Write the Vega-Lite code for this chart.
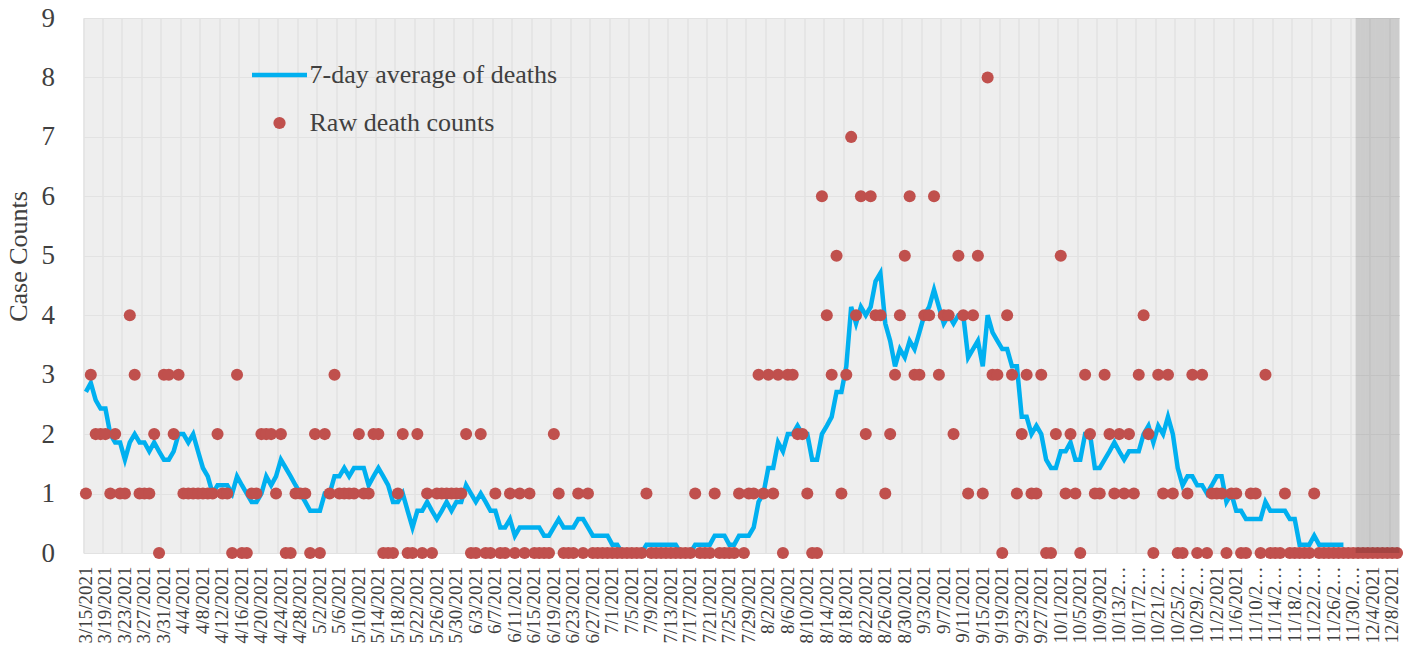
{
"$schema": "https://vega.github.io/schema/vega-lite/v6.json",
"width": 1316, "height": 535,
"autosize": {"type": "none"},
"padding": {"left": 83.5, "top": 18, "right": 15.5, "bottom": 97},
"background": "white",
"config": {"view": {"stroke": null, "fill": "#eeeeee"}, "font": "Liberation Serif"},
"data": {"values": [
{"date":"3/15/2021","deaths":1,"avg7":2.71},{"date":"3/16/2021","deaths":3,"avg7":2.86},{"date":"3/17/2021","deaths":2,"avg7":2.57},{"date":"3/18/2021","deaths":2,"avg7":2.43},{"date":"3/19/2021","deaths":2,"avg7":2.43},{"date":"3/20/2021","deaths":1,"avg7":2.0},{"date":"3/21/2021","deaths":2,"avg7":1.86},{"date":"3/22/2021","deaths":1,"avg7":1.86},{"date":"3/23/2021","deaths":1,"avg7":1.57},{"date":"3/24/2021","deaths":4,"avg7":1.86},
{"date":"3/25/2021","deaths":3,"avg7":2.0},{"date":"3/26/2021","deaths":1,"avg7":1.86},{"date":"3/27/2021","deaths":1,"avg7":1.86},{"date":"3/28/2021","deaths":1,"avg7":1.71},{"date":"3/29/2021","deaths":2,"avg7":1.86},{"date":"3/30/2021","deaths":0,"avg7":1.71},{"date":"3/31/2021","deaths":3,"avg7":1.57},{"date":"4/1/2021","deaths":3,"avg7":1.57},{"date":"4/2/2021","deaths":2,"avg7":1.71},{"date":"4/3/2021","deaths":3,"avg7":2.0},
{"date":"4/4/2021","deaths":1,"avg7":2.0},{"date":"4/5/2021","deaths":1,"avg7":1.86},{"date":"4/6/2021","deaths":1,"avg7":2.0},{"date":"4/7/2021","deaths":1,"avg7":1.71},{"date":"4/8/2021","deaths":1,"avg7":1.43},{"date":"4/9/2021","deaths":1,"avg7":1.29},{"date":"4/10/2021","deaths":1,"avg7":1.0},{"date":"4/11/2021","deaths":2,"avg7":1.14},{"date":"4/12/2021","deaths":1,"avg7":1.14},{"date":"4/13/2021","deaths":1,"avg7":1.14},
{"date":"4/14/2021","deaths":0,"avg7":1.0},{"date":"4/15/2021","deaths":3,"avg7":1.29},{"date":"4/16/2021","deaths":0,"avg7":1.14},{"date":"4/17/2021","deaths":0,"avg7":1.0},{"date":"4/18/2021","deaths":1,"avg7":0.86},{"date":"4/19/2021","deaths":1,"avg7":0.86},{"date":"4/20/2021","deaths":2,"avg7":1.0},{"date":"4/21/2021","deaths":2,"avg7":1.29},{"date":"4/22/2021","deaths":2,"avg7":1.14},{"date":"4/23/2021","deaths":1,"avg7":1.29},
{"date":"4/24/2021","deaths":2,"avg7":1.57},{"date":"4/25/2021","deaths":0,"avg7":1.43},{"date":"4/26/2021","deaths":0,"avg7":1.29},{"date":"4/27/2021","deaths":1,"avg7":1.14},{"date":"4/28/2021","deaths":1,"avg7":1.0},{"date":"4/29/2021","deaths":1,"avg7":0.86},{"date":"4/30/2021","deaths":0,"avg7":0.71},{"date":"5/1/2021","deaths":2,"avg7":0.71},{"date":"5/2/2021","deaths":0,"avg7":0.71},{"date":"5/3/2021","deaths":2,"avg7":1.0},
{"date":"5/4/2021","deaths":1,"avg7":1.0},{"date":"5/5/2021","deaths":3,"avg7":1.29},{"date":"5/6/2021","deaths":1,"avg7":1.29},{"date":"5/7/2021","deaths":1,"avg7":1.43},{"date":"5/8/2021","deaths":1,"avg7":1.29},{"date":"5/9/2021","deaths":1,"avg7":1.43},{"date":"5/10/2021","deaths":2,"avg7":1.43},{"date":"5/11/2021","deaths":1,"avg7":1.43},{"date":"5/12/2021","deaths":1,"avg7":1.14},{"date":"5/13/2021","deaths":2,"avg7":1.29},
{"date":"5/14/2021","deaths":2,"avg7":1.43},{"date":"5/15/2021","deaths":0,"avg7":1.29},{"date":"5/16/2021","deaths":0,"avg7":1.14},{"date":"5/17/2021","deaths":0,"avg7":0.86},{"date":"5/18/2021","deaths":1,"avg7":0.86},{"date":"5/19/2021","deaths":2,"avg7":1.0},{"date":"5/20/2021","deaths":0,"avg7":0.71},{"date":"5/21/2021","deaths":0,"avg7":0.43},{"date":"5/22/2021","deaths":2,"avg7":0.71},{"date":"5/23/2021","deaths":0,"avg7":0.71},
{"date":"5/24/2021","deaths":1,"avg7":0.86},{"date":"5/25/2021","deaths":0,"avg7":0.71},{"date":"5/26/2021","deaths":1,"avg7":0.57},{"date":"5/27/2021","deaths":1,"avg7":0.71},{"date":"5/28/2021","deaths":1,"avg7":0.86},{"date":"5/29/2021","deaths":1,"avg7":0.71},{"date":"5/30/2021","deaths":1,"avg7":0.86},{"date":"5/31/2021","deaths":1,"avg7":0.86},{"date":"6/1/2021","deaths":2,"avg7":1.14},{"date":"6/2/2021","deaths":0,"avg7":1.0},
{"date":"6/3/2021","deaths":0,"avg7":0.86},{"date":"6/4/2021","deaths":2,"avg7":1.0},{"date":"6/5/2021","deaths":0,"avg7":0.86},{"date":"6/6/2021","deaths":0,"avg7":0.71},{"date":"6/7/2021","deaths":1,"avg7":0.71},{"date":"6/8/2021","deaths":0,"avg7":0.43},{"date":"6/9/2021","deaths":0,"avg7":0.43},{"date":"6/10/2021","deaths":1,"avg7":0.57},{"date":"6/11/2021","deaths":0,"avg7":0.29},{"date":"6/12/2021","deaths":1,"avg7":0.43},
{"date":"6/13/2021","deaths":0,"avg7":0.43},{"date":"6/14/2021","deaths":1,"avg7":0.43},{"date":"6/15/2021","deaths":0,"avg7":0.43},{"date":"6/16/2021","deaths":0,"avg7":0.43},{"date":"6/17/2021","deaths":0,"avg7":0.29},{"date":"6/18/2021","deaths":0,"avg7":0.29},{"date":"6/19/2021","deaths":2,"avg7":0.43},{"date":"6/20/2021","deaths":1,"avg7":0.57},{"date":"6/21/2021","deaths":0,"avg7":0.43},{"date":"6/22/2021","deaths":0,"avg7":0.43},
{"date":"6/23/2021","deaths":0,"avg7":0.43},{"date":"6/24/2021","deaths":1,"avg7":0.57},{"date":"6/25/2021","deaths":0,"avg7":0.57},{"date":"6/26/2021","deaths":1,"avg7":0.43},{"date":"6/27/2021","deaths":0,"avg7":0.29},{"date":"6/28/2021","deaths":0,"avg7":0.29},{"date":"6/29/2021","deaths":0,"avg7":0.29},{"date":"6/30/2021","deaths":0,"avg7":0.29},{"date":"7/1/2021","deaths":0,"avg7":0.14},{"date":"7/2/2021","deaths":0,"avg7":0.14},
{"date":"7/3/2021","deaths":0,"avg7":0},{"date":"7/4/2021","deaths":0,"avg7":0},{"date":"7/5/2021","deaths":0,"avg7":0},{"date":"7/6/2021","deaths":0,"avg7":0},{"date":"7/7/2021","deaths":0,"avg7":0},{"date":"7/8/2021","deaths":1,"avg7":0.14},{"date":"7/9/2021","deaths":0,"avg7":0.14},{"date":"7/10/2021","deaths":0,"avg7":0.14},{"date":"7/11/2021","deaths":0,"avg7":0.14},{"date":"7/12/2021","deaths":0,"avg7":0.14},
{"date":"7/13/2021","deaths":0,"avg7":0.14},{"date":"7/14/2021","deaths":0,"avg7":0.14},{"date":"7/15/2021","deaths":0,"avg7":0},{"date":"7/16/2021","deaths":0,"avg7":0},{"date":"7/17/2021","deaths":0,"avg7":0},{"date":"7/18/2021","deaths":1,"avg7":0.14},{"date":"7/19/2021","deaths":0,"avg7":0.14},{"date":"7/20/2021","deaths":0,"avg7":0.14},{"date":"7/21/2021","deaths":0,"avg7":0.14},{"date":"7/22/2021","deaths":1,"avg7":0.29},
{"date":"7/23/2021","deaths":0,"avg7":0.29},{"date":"7/24/2021","deaths":0,"avg7":0.29},{"date":"7/25/2021","deaths":0,"avg7":0.14},{"date":"7/26/2021","deaths":0,"avg7":0.14},{"date":"7/27/2021","deaths":1,"avg7":0.29},{"date":"7/28/2021","deaths":0,"avg7":0.29},{"date":"7/29/2021","deaths":1,"avg7":0.29},{"date":"7/30/2021","deaths":1,"avg7":0.43},{"date":"7/31/2021","deaths":3,"avg7":0.86},{"date":"8/1/2021","deaths":1,"avg7":1.0},
{"date":"8/2/2021","deaths":3,"avg7":1.43},{"date":"8/3/2021","deaths":1,"avg7":1.43},{"date":"8/4/2021","deaths":3,"avg7":1.86},{"date":"8/5/2021","deaths":0,"avg7":1.71},{"date":"8/6/2021","deaths":3,"avg7":2.0},{"date":"8/7/2021","deaths":3,"avg7":2.0},{"date":"8/8/2021","deaths":2,"avg7":2.14},{"date":"8/9/2021","deaths":2,"avg7":2.0},{"date":"8/10/2021","deaths":1,"avg7":2.0},{"date":"8/11/2021","deaths":0,"avg7":1.57},
{"date":"8/12/2021","deaths":0,"avg7":1.57},{"date":"8/13/2021","deaths":6,"avg7":2.0},{"date":"8/14/2021","deaths":4,"avg7":2.14},{"date":"8/15/2021","deaths":3,"avg7":2.29},{"date":"8/16/2021","deaths":5,"avg7":2.71},{"date":"8/17/2021","deaths":1,"avg7":2.71},{"date":"8/18/2021","deaths":3,"avg7":3.14},{"date":"8/19/2021","deaths":7,"avg7":4.14},{"date":"8/20/2021","deaths":4,"avg7":3.86},{"date":"8/21/2021","deaths":6,"avg7":4.14},
{"date":"8/22/2021","deaths":2,"avg7":4.0},{"date":"8/23/2021","deaths":6,"avg7":4.14},{"date":"8/24/2021","deaths":4,"avg7":4.57},{"date":"8/25/2021","deaths":4,"avg7":4.71},{"date":"8/26/2021","deaths":1,"avg7":3.86},{"date":"8/27/2021","deaths":2,"avg7":3.57},{"date":"8/28/2021","deaths":3,"avg7":3.14},{"date":"8/29/2021","deaths":4,"avg7":3.43},{"date":"8/30/2021","deaths":5,"avg7":3.29},{"date":"8/31/2021","deaths":6,"avg7":3.57},
{"date":"9/1/2021","deaths":3,"avg7":3.43},{"date":"9/2/2021","deaths":3,"avg7":3.71},{"date":"9/3/2021","deaths":4,"avg7":4.0},{"date":"9/4/2021","deaths":4,"avg7":4.14},{"date":"9/5/2021","deaths":6,"avg7":4.43},{"date":"9/6/2021","deaths":3,"avg7":4.14},{"date":"9/7/2021","deaths":4,"avg7":3.86},{"date":"9/8/2021","deaths":4,"avg7":4.0},{"date":"9/9/2021","deaths":2,"avg7":3.86},{"date":"9/10/2021","deaths":5,"avg7":4.0},
{"date":"9/11/2021","deaths":4,"avg7":4.0},{"date":"9/12/2021","deaths":1,"avg7":3.29},{"date":"9/13/2021","deaths":4,"avg7":3.43},{"date":"9/14/2021","deaths":5,"avg7":3.57},{"date":"9/15/2021","deaths":1,"avg7":3.14},{"date":"9/16/2021","deaths":8,"avg7":4.0},{"date":"9/17/2021","deaths":3,"avg7":3.71},{"date":"9/18/2021","deaths":3,"avg7":3.57},{"date":"9/19/2021","deaths":0,"avg7":3.43},{"date":"9/20/2021","deaths":4,"avg7":3.43},
{"date":"9/21/2021","deaths":3,"avg7":3.14},{"date":"9/22/2021","deaths":1,"avg7":3.14},{"date":"9/23/2021","deaths":2,"avg7":2.29},{"date":"9/24/2021","deaths":3,"avg7":2.29},{"date":"9/25/2021","deaths":1,"avg7":2.0},{"date":"9/26/2021","deaths":1,"avg7":2.14},{"date":"9/27/2021","deaths":3,"avg7":2.0},{"date":"9/28/2021","deaths":0,"avg7":1.57},{"date":"9/29/2021","deaths":0,"avg7":1.43},{"date":"9/30/2021","deaths":2,"avg7":1.43},
{"date":"10/1/2021","deaths":5,"avg7":1.71},{"date":"10/2/2021","deaths":1,"avg7":1.71},{"date":"10/3/2021","deaths":2,"avg7":1.86},{"date":"10/4/2021","deaths":1,"avg7":1.57},{"date":"10/5/2021","deaths":0,"avg7":1.57},{"date":"10/6/2021","deaths":3,"avg7":2.0},{"date":"10/7/2021","deaths":2,"avg7":2.0},{"date":"10/8/2021","deaths":1,"avg7":1.43},{"date":"10/9/2021","deaths":1,"avg7":1.43},{"date":"10/10/2021","deaths":3,"avg7":1.57},
{"date":"10/11/2021","deaths":2,"avg7":1.71},{"date":"10/12/2021","deaths":1,"avg7":1.86},{"date":"10/13/2021","deaths":2,"avg7":1.71},{"date":"10/14/2021","deaths":1,"avg7":1.57},{"date":"10/15/2021","deaths":2,"avg7":1.71},{"date":"10/16/2021","deaths":1,"avg7":1.71},{"date":"10/17/2021","deaths":3,"avg7":1.71},{"date":"10/18/2021","deaths":4,"avg7":2.0},{"date":"10/19/2021","deaths":2,"avg7":2.14},{"date":"10/20/2021","deaths":0,"avg7":1.86},
{"date":"10/21/2021","deaths":3,"avg7":2.14},{"date":"10/22/2021","deaths":1,"avg7":2.0},{"date":"10/23/2021","deaths":3,"avg7":2.29},{"date":"10/24/2021","deaths":1,"avg7":2.0},{"date":"10/25/2021","deaths":0,"avg7":1.43},{"date":"10/26/2021","deaths":0,"avg7":1.14},{"date":"10/27/2021","deaths":1,"avg7":1.29},{"date":"10/28/2021","deaths":3,"avg7":1.29},{"date":"10/29/2021","deaths":0,"avg7":1.14},{"date":"10/30/2021","deaths":3,"avg7":1.14},
{"date":"10/31/2021","deaths":0,"avg7":1.0},{"date":"11/1/2021","deaths":1,"avg7":1.14},{"date":"11/2/2021","deaths":1,"avg7":1.29},{"date":"11/3/2021","deaths":1,"avg7":1.29},{"date":"11/4/2021","deaths":0,"avg7":0.86},{"date":"11/5/2021","deaths":1,"avg7":1.0},{"date":"11/6/2021","deaths":1,"avg7":0.71},{"date":"11/7/2021","deaths":0,"avg7":0.71},{"date":"11/8/2021","deaths":0,"avg7":0.57},{"date":"11/9/2021","deaths":1,"avg7":0.57},
{"date":"11/10/2021","deaths":1,"avg7":0.57},{"date":"11/11/2021","deaths":0,"avg7":0.57},{"date":"11/12/2021","deaths":3,"avg7":0.86},{"date":"11/13/2021","deaths":0,"avg7":0.71},{"date":"11/14/2021","deaths":0,"avg7":0.71},{"date":"11/15/2021","deaths":0,"avg7":0.71},{"date":"11/16/2021","deaths":1,"avg7":0.71},{"date":"11/17/2021","deaths":0,"avg7":0.57},{"date":"11/18/2021","deaths":0,"avg7":0.57},{"date":"11/19/2021","deaths":0,"avg7":0.14},
{"date":"11/20/2021","deaths":0,"avg7":0.14},{"date":"11/21/2021","deaths":0,"avg7":0.14},{"date":"11/22/2021","deaths":1,"avg7":0.29},{"date":"11/23/2021","deaths":0,"avg7":0.14},{"date":"11/24/2021","deaths":0,"avg7":0.14},{"date":"11/25/2021","deaths":0,"avg7":0.14},{"date":"11/26/2021","deaths":0,"avg7":0.14},{"date":"11/27/2021","deaths":0,"avg7":0.14},{"date":"11/28/2021","deaths":0,"avg7":0.14},{"date":"11/29/2021","deaths":0,"avg7":null},
{"date":"11/30/2021","deaths":0,"avg7":null},{"date":"12/1/2021","deaths":0,"avg7":null},{"date":"12/2/2021","deaths":0,"avg7":null},{"date":"12/3/2021","deaths":0,"avg7":null},{"date":"12/4/2021","deaths":0,"avg7":null},{"date":"12/5/2021","deaths":0,"avg7":null},{"date":"12/6/2021","deaths":0,"avg7":null},{"date":"12/7/2021","deaths":0,"avg7":null},{"date":"12/8/2021","deaths":0,"avg7":null},{"date":"12/9/2021","deaths":0,"avg7":null}
]},
"resolve": {"axis": {"x": "independent"}},
"layer": [
{"mark": {"type": "line", "strokeWidth": 4.5, "color": "#00B0F0"},
 "encoding": {
  "x": {"field": "date", "type": "ordinal", "sort": null, "scale": {"type": "band", "paddingInner": 0, "paddingOuter": 0},
   "axis": {"title": null, "values": ["3/15/2021","3/19/2021","3/23/2021","3/27/2021","3/31/2021","4/4/2021","4/8/2021","4/12/2021","4/16/2021","4/20/2021","4/24/2021","4/28/2021","5/2/2021","5/6/2021","5/10/2021","5/14/2021","5/18/2021","5/22/2021","5/26/2021","5/30/2021","6/3/2021","6/7/2021","6/11/2021","6/15/2021","6/19/2021","6/23/2021","6/27/2021","7/1/2021","7/5/2021","7/9/2021","7/13/2021","7/17/2021","7/21/2021","7/25/2021","7/29/2021","8/2/2021","8/6/2021","8/10/2021","8/14/2021","8/18/2021","8/22/2021","8/26/2021","8/30/2021","9/3/2021","9/7/2021","9/11/2021","9/15/2021","9/19/2021","9/23/2021","9/27/2021","10/1/2021","10/5/2021","10/9/2021","10/13/2021","10/17/2021","10/21/2021","10/25/2021","10/29/2021","11/2/2021","11/6/2021","11/10/2021","11/14/2021","11/18/2021","11/22/2021","11/26/2021","11/30/2021","12/4/2021","12/8/2021"],
    "labelAngle": 270, "labelFontSize": 19, "labelColor": "#404040", "labelLimit": 80, "labelPadding": 13, "ticks": false, "domain": false, "grid": false,
    "encode": {"labels": {"update": {"ellipsis": {"value": "..."}}}}}},
  "y": {"field": "avg7", "type": "quantitative", "scale": {"domain": [0, 9], "nice": false},
   "axis": {"values": [0,1,2,3,4,5,6,7,8,9], "format": "d", "title": "Case Counts", "titleFontSize": 26, "titleFontWeight": "normal", "titleColor": "#404040", "titleX": -65.5, "titleY": 238, "titleAngle": 270, "titleBaseline": "middle",
    "labelFontSize": 27, "labelColor": "#404040", "labelPadding": 29, "ticks": false, "domain": false, "grid": true, "gridColor": "#e2e2e2", "gridWidth": 1}},
  "color": {"datum": "7-day average of deaths", "type": "nominal",
   "scale": {"domain": ["7-day average of deaths", "Raw death counts"], "range": ["#00B0F0", "#C0504D"]},
   "legend": {"orient": "none", "legendX": 166, "legendY": 27, "title": null, "direction": "vertical", "labelFontSize": 26, "labelLimit": 500, "labelColor": "#404040", "labelOffset": 0, "rowPadding": 5, "padding": 0,
    "encode": {"symbols": {"update": {
     "shape": {"signal": "(datum.value === 'Raw death counts' ? 'circle' : 'stroke')"},
     "size": {"signal": "(datum.value === 'Raw death counts' ? 150 : 3025)"},
     "strokeWidth": {"signal": "(datum.value === 'Raw death counts' ? 0 : 4.5)"},
     "fill": {"signal": "(datum.value === 'Raw death counts' ? '#C0504D' : 'transparent')"},
     "stroke": {"signal": "(datum.value === 'Raw death counts' ? 'transparent' : '#00B0F0')"},
     "opacity": {"value": 1}}}}}}
 }},
{"mark": {"type": "circle", "size": 145, "opacity": 1},
 "encoding": {
  "x": {"field": "date", "type": "ordinal", "sort": null, "axis": null},
  "y": {"field": "deaths", "type": "quantitative"},
  "color": {"datum": "Raw death counts", "type": "nominal"}
 }},
{"transform": [{"filter": {"field": "date", "oneOf": ["12/1/2021","12/2/2021","12/3/2021","12/4/2021","12/5/2021","12/6/2021","12/7/2021","12/8/2021","12/9/2021"]}}],
 "mark": {"type": "bar", "color": "#000000", "opacity": 0.14},
 "encoding": {
  "x": {"field": "date", "type": "ordinal", "sort": null,
   "axis": {"orient": "top", "title": null, "labels": false, "ticks": false, "domain": false, "grid": true, "gridColor": "#e2e2e2", "gridWidth": 1.5, "bandPosition": 0,
    "values": ["3/15/2021","3/19/2021","3/23/2021","3/27/2021","3/31/2021","4/4/2021","4/8/2021","4/12/2021","4/16/2021","4/20/2021","4/24/2021","4/28/2021","5/2/2021","5/6/2021","5/10/2021","5/14/2021","5/18/2021","5/22/2021","5/26/2021","5/30/2021","6/3/2021","6/7/2021","6/11/2021","6/15/2021","6/19/2021","6/23/2021","6/27/2021","7/1/2021","7/5/2021","7/9/2021","7/13/2021","7/17/2021","7/21/2021","7/25/2021","7/29/2021","8/2/2021","8/6/2021","8/10/2021","8/14/2021","8/18/2021","8/22/2021","8/26/2021","8/30/2021","9/3/2021","9/7/2021","9/11/2021","9/15/2021","9/19/2021","9/23/2021","9/27/2021","10/1/2021","10/5/2021","10/9/2021","10/13/2021","10/17/2021","10/21/2021","10/25/2021","10/29/2021","11/2/2021","11/6/2021","11/10/2021","11/14/2021","11/18/2021","11/22/2021","11/26/2021","11/30/2021","12/4/2021","12/8/2021"]}},
  "y": {"datum": 9},
  "y2": {"datum": 0}
 }}
]
}
